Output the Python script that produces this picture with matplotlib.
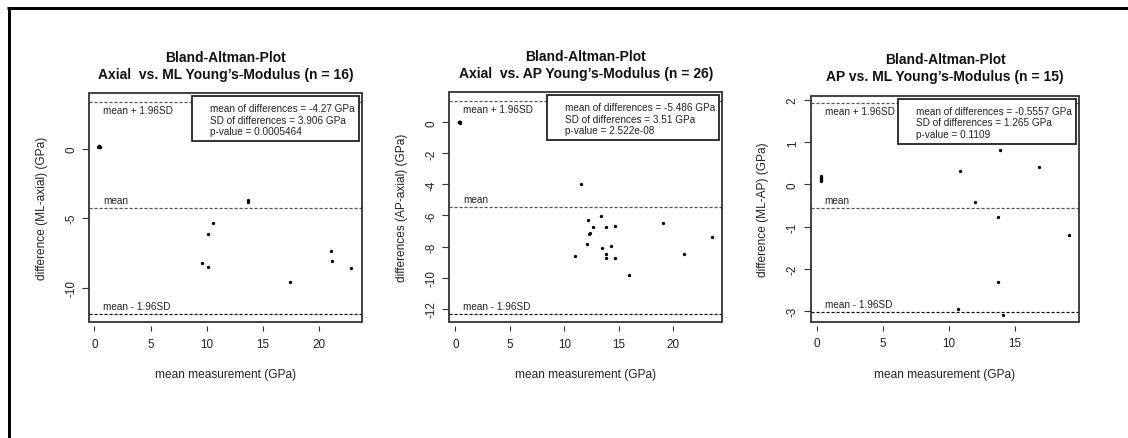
import matplotlib
matplotlib.use("Agg")
import matplotlib.pyplot as plt
from matplotlib.patches import Rectangle
from matplotlib.lines import Line2D
import matplotlib.transforms as mtransforms

plt.rcParams['font.family'] = ['Liberation Sans', 'DejaVu Sans']

# ---------------- data ----------------
titles = [
    ("Bland-Altman-Plot", "Axial  vs. ML Young\u2019s-Modulus (n = 16)"),
    ("Bland-Altman-Plot", "Axial  vs. AP Young\u2019s-Modulus (n = 26)"),
    ("Bland-Altman-Plot", "AP vs. ML Young\u2019s-Modulus (n = 15)"),
]
ylabels = ["difference (ML-axial) (GPa)", "differences (AP-axial) (GPa)", "difference (ML-AP) (GPa)"]
xlabel = "mean measurement (GPa)"

x1 = [0.35, 0.40, 0.45, 0.47, 0.50, 0.42, 13.66, 13.68,
      10.52, 10.07, 9.54, 10.10, 17.42, 21.00, 21.10, 22.84]
y1 = [0.15, 0.18, 0.12, 0.15, 0.10, 0.20, -3.70, -3.82,
      -5.35, -6.11, -8.25, -8.51, -9.59, -7.38, -8.10, -8.58]

x2 = [0.30, 0.35, 0.40, 0.46, 0.42, 0.38, 0.33,
      11.56, 12.15, 13.37, 12.60, 12.33, 12.27, 13.83, 14.68, 19.03,
      23.55, 12.06, 10.95, 13.49, 14.31, 13.80, 13.80, 14.65, 21.01, 15.91]
y2 = [0.00, 0.02, -0.02, 0.00, 0.01, -0.01, 0.00,
      -3.95, -6.29, -6.01, -6.76, -7.13, -7.17, -6.76, -6.70, -6.50,
      -7.39, -7.84, -8.59, -8.09, -7.94, -8.48, -8.74, -8.72, -8.46, -9.83]

x3 = [0.28, 0.28, 0.29, 0.28, 0.28, 0.29,
      10.83, 13.86, 16.82, 11.95, 13.74, 19.11, 13.74, 10.71, 14.07]
y3 = [0.07, 0.10, 0.13, 0.15, 0.17, 0.19,
      0.31, 0.81, 0.41, -0.41, -0.77, -1.21, -2.31, -2.97, -3.11]

mean_diffs = [-4.27, -5.486, -0.5557]
sd_diffs = [3.906, 3.51, 1.265]
mean_txt = ["-4.27", "-5.486", "-0.5557"]
sd_txt = ["3.906", "3.51", "1.265"]
p_txt = ["0.0005464", "2.522e-08", "0.1109"]

xticks = [[0, 5, 10, 15, 20], [0, 5, 10, 15, 20], [0, 5, 10, 15]]
yticks = [[-10, -5, 0], [-12, -10, -8, -6, -4, -2, 0], [-3, -2, -1, 0, 1, 2]]
xlims = [(-0.44, 23.8), (-0.55, 24.5), (-0.48, 19.87)]
ylims = [(-12.49, 3.99), (-12.88, 1.93), (-3.26, 2.10)]

xs = [x1, x2, x3]
ys = [y1, y2, y3]

# ---------------- layout (pixels) ----------------
W, H, DPI = 1128, 439, 100
fig = plt.figure(figsize=(W / DPI, H / DPI), dpi=DPI)
boxes_px = [(89.3, 94.3, 362.0, 323.3), (449.3, 93.3, 722.3, 323.3), (810.7, 97.0, 1079.3, 322.7)]
PT = 72.0 / DPI  # points per pixel

# outer frame (left and top only visible)
fig.add_artist(Line2D([8.5 / W, 8.5 / W], [0, 1 - 8.5 / H], transform=fig.transFigure,
                      color='black', lw=3 * PT * 1.0 / PT * PT, solid_capstyle='butt'))
fig.add_artist(Line2D([7 / W, 1], [1 - 8.5 / H, 1 - 8.5 / H], transform=fig.transFigure,
                      color='black', lw=3 * PT, solid_capstyle='butt'))

renderer = fig.canvas.get_renderer()

for i in range(3):
    l, t, r, b = boxes_px[i]
    ax = fig.add_axes([l / W, 1 - b / H, (r - l) / W, (b - t) / H])
    axw, axh = r - l, b - t
    ax.set_xlim(*xlims[i])
    ax.set_ylim(*ylims[i])

    m, s = mean_diffs[i], sd_diffs[i]
    upper, lower = m + 1.96 * s, m - 1.96 * s
    ax.axhline(upper, color='#555555', lw=0.9, ls=(0, (2.5, 1.5)))
    ax.axhline(m, color='#555555', lw=0.9, ls=(0, (2.5, 1.5)))
    ax.axhline(lower, color='#111111', lw=0.9, ls=(0, (2.5, 1.5)))

    ax.plot(xs[i], ys[i], 'o', color='black', ms=2.4, mew=0)

    bt = mtransforms.blended_transform_factory(ax.transAxes, ax.transData)
    kw = dict(xycoords=bt, textcoords='offset pixels', ha='left', va='center',
              fontsize=7.2, color='#222222')
    ax.annotate("mean + 1.96SD", xy=(0, upper), xytext=(14, -8), **kw)
    ax.annotate("mean", xy=(0, m), xytext=(14, 8), **kw)
    ax.annotate("mean - 1.96SD", xy=(0, lower), xytext=(14, 8), **kw)

    # spines: draw box manually, ticks offset
    for sp in ax.spines.values():
        sp.set_visible(False)
    ax.spines['bottom'].set_position(('outward', 4 * PT))
    ax.add_patch(Rectangle((0, 0), 1, 1, transform=ax.transAxes, fill=False,
                           edgecolor='#333333', lw=1.3, clip_on=False, zorder=5))

    ax.set_xticks(xticks[i])
    ax.set_yticks(yticks[i])
    ax.set_xticklabels([str(v) for v in xticks[i]])
    ax.set_yticklabels([str(v) for v in yticks[i]])
    ax.tick_params(axis='x', direction='out', length=5 * PT, width=0.8, pad=4.6,
                   labelsize=8.4, color='#333333', labelcolor='#222222')
    ax.tick_params(axis='y', direction='out', length=7 * PT, width=0.8, pad=3.6,
                   labelsize=8.4, color='#333333', labelcolor='#222222', labelrotation=90)
    for lab in ax.get_yticklabels():
        lab.set_va('center')

    # axis labels
    ax.text(-47.5 / axw, 0.5, ylabels[i], rotation=90, ha='center', va='center',
            fontsize=8.6, color='#222222', transform=ax.transAxes)
    ax.text(0.5, -52 / axh, xlabel, ha='center', va='center', fontsize=8.6,
            color='#222222', transform=ax.transAxes)

    # titles
    ax.text(0.5, 1 + 36.5 / axh, titles[i][0], ha='center', va='center', fontsize=10,
            fontweight='bold', color='#111111', transform=ax.transAxes)
    ax.text(0.5, 1 + 19.5 / axh, titles[i][1], ha='center', va='center', fontsize=10,
            fontweight='bold', color='#111111', transform=ax.transAxes)

    # legend box (R style)
    lines = ["mean of differences = %s GPa" % mean_txt[i],
             "SD of differences = %s GPa" % sd_txt[i],
             "p-value = %s" % p_txt[i]]
    texts = []
    for k, ln in enumerate(lines):
        texts.append(ax.text(0, 0, ln, fontsize=7.2, color='#222222', ha='left', va='center',
                             transform=ax.transAxes))
    tw = max(tx.get_window_extent(renderer).width for tx in texts)
    box_w = 17.5 + tw + 4.5
    box_h = 45.0
    box_right = axw - 3
    box_top = 2.5
    bx0 = (box_right - box_w) / axw
    by0 = 1 - (box_top + box_h) / axh
    ax.add_patch(Rectangle((bx0, by0), box_w / axw, box_h / axh, transform=ax.transAxes,
                           facecolor='white', edgecolor='#222222', lw=1.3, zorder=6,
                           clip_on=False))
    for k, tx in enumerate(texts):
        tx.set_position(((box_right - box_w + 17.5) / axw, 1 - (box_top + 12.5 + 11.5 * k) / axh))
        tx.set_zorder(7)

fig.savefig("out.png", dpi=DPI)
